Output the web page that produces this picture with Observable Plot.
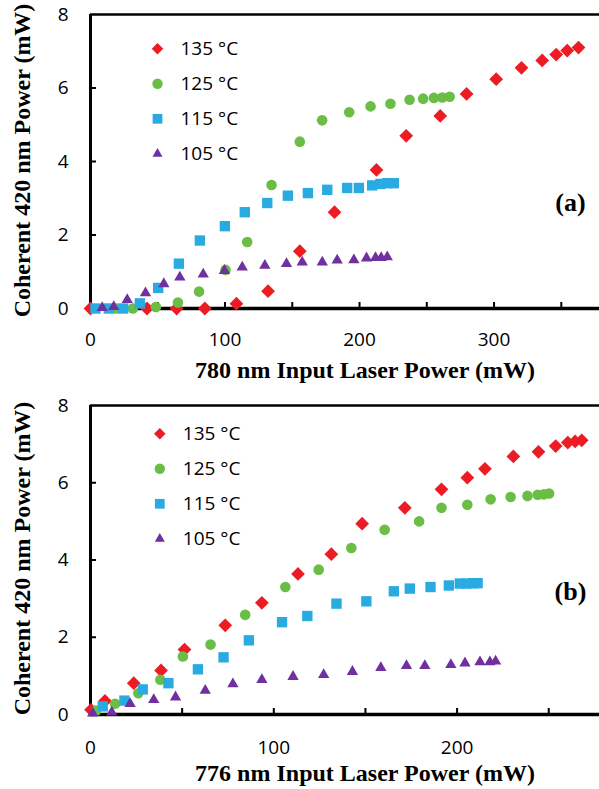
<!DOCTYPE html>
<html><head><meta charset="utf-8">
<script src="https://cdn.jsdelivr.net/npm/d3@7"></script>
<script src="https://cdn.jsdelivr.net/npm/@observablehq/plot@0.6"></script>
<style>
html,body{margin:0;padding:0;background:#fff}
#chart svg{display:block}
</style>
</head><body><div id="chart"></div>
<script>
// ---- series meta ----
const seriesNames = ["135 °C", "125 °C", "115 °C", "105 °C"];
const seriesColors = ["#ed1c24", "#6abd45", "#29abe2", "#7030a0"];
const seriesSymbols = ["diamond2", "circle", "square2", "triangle2"];

// ---- panel (a): 780 nm ----
const a135x = [0, 42, 64, 85, 108.5, 132, 155.6, 181.4, 212.6, 234.7, 260, 279.6, 301.6, 320.4, 335.8, 346.2, 354.4, 362.8];
const a135y = [0, 0, 0, 0, 0.13, 0.47, 1.56, 2.62, 3.77, 4.70, 5.24, 5.84, 6.24, 6.55, 6.75, 6.91, 7.02, 7.10];
const a125x = [19, 31.5, 48.6, 65, 80.7, 100.4, 116.5, 134.6, 155.6, 172.2, 192.3, 208.2, 223, 237.2, 247.3, 255.3, 261.5, 267];
const a125y = [0, 0, 0.04, 0.16, 0.46, 1.05, 1.81, 3.36, 4.54, 5.12, 5.34, 5.50, 5.57, 5.68, 5.71, 5.73, 5.74, 5.76];
const a115x = [3.7, 13.6, 24.3, 36.7, 50.3, 65.7, 81.3, 99.9, 114.7, 131.4, 146.7, 161.6, 176, 190.8, 199.5, 209.4, 215.6, 220.6, 225.5];
const a115y = [0, 0, 0, 0.14, 0.56, 1.22, 1.85, 2.24, 2.62, 2.87, 3.07, 3.14, 3.23, 3.28, 3.28, 3.35, 3.39, 3.41, 3.41];
const a105x = [8.7, 17.3, 27.3, 40.9, 54.5, 66.4, 83.8, 99.6, 112.8, 129.6, 145.7, 157.4, 172.3, 183.4, 195.8, 205.2, 211.9, 216.1, 220.6];
const a105y = [0.02, 0.05, 0.24, 0.42, 0.67, 0.85, 0.93, 1.03, 1.12, 1.17, 1.22, 1.26, 1.26, 1.31, 1.32, 1.37, 1.38, 1.38, 1.40];

// ---- panel (b): 776 nm ----
const b135x = [0.3, 7.9, 23.6, 38.5, 51.3, 73.5, 93.5, 113.2, 131.4, 148.2, 171.5, 191.5, 205.6, 215.2, 230.7, 244.4, 253.8, 260.4, 264.4, 268];
const b135y = [0.12, 0.35, 0.81, 1.14, 1.68, 2.31, 2.89, 3.64, 4.15, 4.94, 5.35, 5.83, 6.13, 6.36, 6.68, 6.80, 6.95, 7.04, 7.07, 7.10];
const b125x = [3, 13.4, 26.1, 38.1, 50.4, 65.5, 84.4, 106.3, 124.5, 142.3, 160.5, 179.3, 191.5, 205.6, 218.3, 229.2, 238.4, 244, 247.4, 250.2];
const b125y = [0.1, 0.28, 0.55, 0.90, 1.50, 1.81, 2.58, 3.30, 3.75, 4.31, 4.78, 5.0, 5.35, 5.43, 5.57, 5.63, 5.66, 5.69, 5.70, 5.72];
const b115x = [6.7, 18.5, 28.5, 42.5, 58.6, 72.6, 86.4, 104.5, 118.3, 134.2, 150.5, 165.5, 174.2, 185.5, 195.5, 201.5, 205.2, 208.8, 211.2];
const b115y = [0.21, 0.36, 0.65, 0.81, 1.17, 1.48, 1.92, 2.39, 2.55, 2.87, 2.93, 3.19, 3.26, 3.30, 3.34, 3.39, 3.39, 3.40, 3.40];
const b105x = [1.2, 11.6, 21.6, 34.5, 46.4, 62.6, 77.7, 93.5, 110.5, 127.2, 142.9, 158.4, 172.4, 182.4, 196.6, 204.3, 212.5, 217.9, 221];
const b105y = [0.03, 0.06, 0.28, 0.38, 0.45, 0.62, 0.79, 0.90, 0.98, 1.03, 1.11, 1.21, 1.26, 1.26, 1.29, 1.33, 1.36, 1.36, 1.38];

// ---- ticks & labels ----
const aXLabelTicks = [0, 100, 200, 300];
const aXMarkTicks = [50, 100, 150, 200, 250, 300, 350];
const bXLabelTicks = [0, 100, 200];
const bXMarkTicks = [50, 100, 150, 200, 250];
const yLabelTicks = [0, 2, 4, 6, 8];
const yMarkTicks = [2, 4, 6];
const yTitle = "Coherent 420 nm Power (mW)";
const aXTitle = "780 nm Input Laser Power (mW)";
const bXTitle = "776 nm Input Laser Power (mW)";

function rows(xs, ys, s) { return xs.map((x, i) => ({x, y: ys[i], s})); }

const aData = [rows(a135x, a135y, seriesNames[0]), rows(a125x, a125y, seriesNames[1]), rows(a115x, a115y, seriesNames[2]), rows(a105x, a105y, seriesNames[3])];
const bData = [rows(b135x, b135y, seriesNames[0]), rows(b125x, b125y, seriesNames[1]), rows(b115x, b115y, seriesNames[2]), rows(b105x, b105y, seriesNames[3])];

const dotR = [6.2, 5.3, 6.6, 5.4];
const legR = [5.2, 5.2, 6.2, 4.8];
const sans = "Open Sans";
const serif = "Liberation Serif";

function panel(o) {
  const W = 599, ml = 90, mr = 0;
  const fw = W - ml - mr, fh = o.height - o.mt - o.mb;
  const marks = [];
  marks.push(Plot.ruleX(o.xMarks, {stroke: "#000", strokeWidth: 2, insetTop: fh - 6}));
  marks.push(Plot.ruleY(yMarkTicks, {stroke: "#000", strokeWidth: 2, insetRight: fw - 6}));
  marks.push(Plot.ruleY([8], {stroke: "#000", strokeWidth: 2.5}));
  marks.push(Plot.ruleX([0], {stroke: "#000", strokeWidth: 3}));
  marks.push(Plot.ruleY([0], {stroke: "#000", strokeWidth: 3.5}));
  o.data.forEach((d, i) => {
    marks.push(Plot.dot(d, {x: "x", y: "y", symbol: seriesSymbols[i], fill: seriesColors[i], r: dotR[i]}));
  });
  seriesNames.forEach((s, i) => {
    marks.push(Plot.dot([s], {frameAnchor: "top-left", dx: o.legDx, dy: o.legDy + 35 * i, symbol: seriesSymbols[i], fill: seriesColors[i], r: legR[i]}));
    marks.push(Plot.text([s], {text: d => d, frameAnchor: "top-left", dx: o.legDx + 23, dy: o.legDy + 35 * i, textAnchor: "start", lineAnchor: "middle", fontSize: 19, fontFamily: sans, fill: "#000"}));
  });
  marks.push(Plot.axisX(o.xLabels, {tickSize: 0, tickPadding: o.xPad, fontSize: 19, fontFamily: sans, label: null, tickFormat: d => String(d)}));
  marks.push(Plot.axisY(yLabelTicks, {tickSize: 0, tickPadding: 22, fontSize: 19, fontFamily: sans, label: null, tickFormat: d => String(d)}));
  marks.push(Plot.text([o.xTitle], {text: d => d, frameAnchor: "bottom", dx: 20, dy: o.xTitleDy, textAnchor: "middle", lineAnchor: "middle", fontSize: 24, fontWeight: "bold", fontFamily: serif, fill: "#000"}));
  marks.push(Plot.text([yTitle], {text: d => d, frameAnchor: "left", rotate: -90, dx: -68, dy: o.yTitleDy, textAnchor: "middle", lineAnchor: "middle", fontSize: 24, fontWeight: "bold", fontFamily: serif, fill: "#000"}));
  marks.push(Plot.text([o.tag], {text: d => d, frameAnchor: "right", dx: -29, dy: o.tagDy, textAnchor: "middle", lineAnchor: "middle", fontSize: 26, fontWeight: "bold", fontFamily: serif, fill: "#000"}));
  return Plot.plot({
    width: W, height: o.height,
    marginLeft: ml, marginRight: mr, marginTop: o.mt, marginBottom: o.mb,
    style: {fontFamily: sans, background: "#fff", color: "#000", overflow: "visible"},
    x: {domain: o.xDomain},
    y: {domain: [0, 8]},
    marks
  });
}

const chart = document.getElementById("chart");
chart.append(panel({
  data: aData, height: 390, mt: 14, mb: 82, xDomain: [0, 378.4],
  xMarks: aXMarkTicks, xLabels: aXLabelTicks, xPad: 24,
  xTitle: aXTitle, xTitleDy: 62, yTitleDy: -1,
  legDx: 67, legDy: 34.3, tag: "(a)", tagDy: 41
}));
chart.append(panel({
  data: bData, height: 399, mt: 15, mb: 75, xDomain: [0, 277.7],
  xMarks: bXMarkTicks, xLabels: bXLabelTicks, xPad: 26,
  xTitle: bXTitle, xTitleDy: 59, yTitleDy: -1.5,
  legDx: 69.3, legDy: 28.3, tag: "(b)", tagDy: 31.5
}));
</script>
</body></html>
